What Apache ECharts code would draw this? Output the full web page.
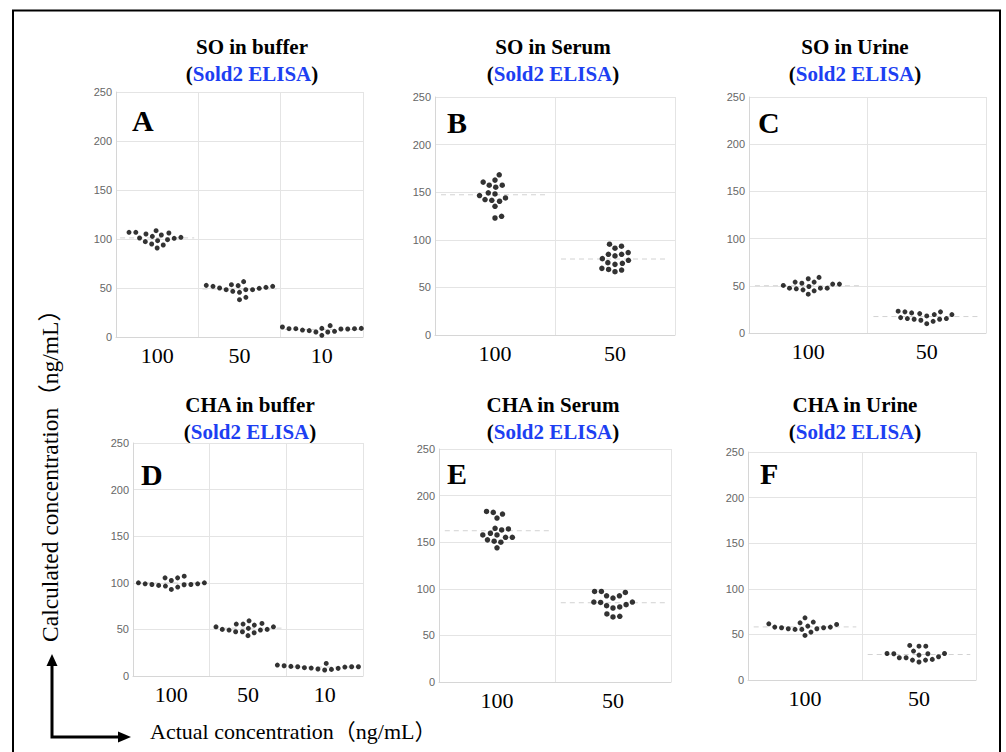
<!DOCTYPE html>
<html>
<head>
<meta charset="utf-8">
<script src="https://cdn.jsdelivr.net/npm/echarts@6/dist/echarts.min.js"></script>
<style>
  html, body { margin: 0; padding: 0; background: #fff; }
  #main { width: 1006px; height: 752px; }
</style>
</head>
<body>
<div id="main"></div>
<script>
// actual concentration (ng/mL) categories
var catsBuffer = ['100', '50', '10'];
var catsMatrix = ['100', '50'];

// calculated concentration (ng/mL)
// A: SO in buffer
var soBuf100 = [106.8, 106.1, 104.1, 101.0, 97.3, 100.7, 93.9, 108.5, 99.3, 90.8, 98.3, 94.9, 101.7, 102.7, 105.1, 106.8];
var soBuf50  = [53.4, 52.7, 51.7, 50.0, 46.6, 48.3, 40.5, 56.5, 48.3, 38.1, 48.3, 45.6, 49.7, 50.7, 51.7, 52.4];
var soBuf10  = [8.8, 8.5, 8.2, 7.1, 6.5, 10.9, 5.1, 8.5, 1.7, 10.2, 5.1, 11.6, 5.8, 8.2, 8.5, 8.8];
// B: SO in serum
var soSer100 = [168.3, 162.7, 160.6, 157.4, 155.3, 157.4, 149.3, 148.2, 146.5, 144.0, 140.5, 142.3, 141.5, 135.2, 124.7, 122.9];
var soSer50  = [91.2, 93.3, 95.4, 84.8, 84.8, 86.6, 83.1, 80.2, 76.0, 75.3, 78.5, 74.2, 70.0, 68.2, 66.5, 68.9];
// C: SO in urine
var soUri100 = [49.3, 57.5, 47.5, 53.9, 46.8, 51.8, 44.7, 51.8, 41.1, 52.8, 45.7, 53.9, 47.5, 58.9, 47.5, 50.4];
var soUri50  = [19.5, 16.3, 15.3, 22.4, 13.5, 21.3, 12.4, 20.6, 9.9, 22.4, 14.6, 23.1, 14.6, 15.3, 18.1, 19.5];
// D: CHA in buffer
var chaBuf100 = [100.0, 98.9, 98.2, 105.3, 96.5, 102.5, 95.4, 102.5, 92.9, 105.3, 97.2, 107.1, 97.9, 98.2, 98.9, 100.0];
var chaBuf50  = [50.0, 56.4, 49.3, 55.7, 47.5, 52.8, 46.4, 51.1, 43.3, 52.8, 47.5, 54.6, 49.3, 55.7, 50.0, 59.2];
var chaBuf10  = [10.3, 9.9, 9.6, 8.9, 8.5, 11.7, 7.1, 11.0, 6.4, 11.7, 7.5, 13.5, 8.2, 9.9, 9.9, 10.3];
// E: CHA in serum
var chaSer100 = [182.0, 175.9, 180.2, 183.0, 164.9, 163.1, 164.2, 159.6, 157.8, 155.3, 150.0, 152.5, 155.3, 151.1, 157.8, 144.0];
var chaSer50  = [96.1, 97.2, 97.2, 92.5, 92.5, 90.1, 85.8, 83.0, 79.4, 80.5, 81.9, 85.4, 85.8, 70.5, 69.8, 73.0];
// F: CHA in urine
var chaUri100 = [58.0, 57.3, 56.2, 58.0, 63.5, 61.6, 52.5, 59.1, 68.2, 48.9, 60.9, 55.5, 62.7, 55.5, 56.2, 57.3];
var chaUri50  = [28.8, 27.3, 24.4, 37.1, 22.6, 31.7, 21.8, 29.1, 19.7, 29.1, 21.8, 37.1, 24.4, 37.9, 25.5, 28.8];

var yTicks = [0, 50, 100, 150, 200, 250];

var SERIF = '"Liberation Serif", "Times New Roman", "Noto Sans CJK JP", serif';

var panels = [
  { letter: 'A', title: 'SO in buffer',  cats: catsBuffer, groups: [soBuf100, soBuf50, soBuf10],   grid: { left: 116, top: 92,  width: 247, height: 245 }, tx: 252, ty: 47,  mark: [132, 120], dot: 5 },
  { letter: 'B', title: 'SO in Serum',   cats: catsMatrix, groups: [soSer100, soSer50],            grid: { left: 435, top: 97,  width: 240, height: 238 }, tx: 553, ty: 47,  mark: [447, 122], dot: 5.5 },
  { letter: 'C', title: 'SO in Urine',   cats: catsMatrix, groups: [soUri100, soUri50],            grid: { left: 749, top: 97,  width: 237, height: 236 }, tx: 855, ty: 47,  mark: [758, 122], dot: 5 },
  { letter: 'D', title: 'CHA in buffer', cats: catsBuffer, groups: [chaBuf100, chaBuf50, chaBuf10], grid: { left: 133, top: 443, width: 230, height: 233 }, tx: 250, ty: 405, mark: [141, 474], dot: 5 },
  { letter: 'E', title: 'CHA in Serum',  cats: catsMatrix, groups: [chaSer100, chaSer50],          grid: { left: 439, top: 449, width: 232, height: 233 }, tx: 553, ty: 405, mark: [447, 473], dot: 5.5 },
  { letter: 'F', title: 'CHA in Urine',  cats: catsMatrix, groups: [chaUri100, chaUri50],          grid: { left: 748, top: 452, width: 228, height: 228 }, tx: 855, ty: 405, mark: [760, 473], dot: 5 }
];

// beeswarm ("swarm" method): place points in ascending order as close to the centre as possible
function swarm(vals, ky, d) {
  var pts = vals.map(function (v) { return { v: v, y: v * ky, x: 0 }; })
    .sort(function (a, b) { return a.y - b.y; });
  var placed = [];
  pts.forEach(function (p) {
    var near = placed.filter(function (q) { return Math.abs(q.y - p.y) < d; });
    var cands = [0];
    near.forEach(function (q) {
      var dx = Math.sqrt(d * d - (q.y - p.y) * (q.y - p.y));
      cands.push(q.x + dx, q.x - dx);
    });
    cands.sort(function (a, b) { return Math.abs(a) - Math.abs(b); });
    for (var c = 0; c < cands.length; c++) {
      var ok = near.every(function (q) {
        return (q.x - cands[c]) * (q.x - cands[c]) + (q.y - p.y) * (q.y - p.y) >= d * d - 1e-6;
      });
      if (ok) { p.x = cands[c]; break; }
    }
    placed.push(p);
  });
  return pts;
}

var grids = [], xAxes = [], yAxes = [], series = [], graphics = [];
var gridColor = '#e4e4e4';

panels.forEach(function (p, k) {
  grids.push(p.grid);
  xAxes.push({
    gridIndex: k, type: 'category', data: p.cats, boundaryGap: true,
    axisLine: { onZero: false, lineStyle: { color: '#d6d6d6' } },
    axisTick: { show: false },
    splitLine: { show: false },
    axisLabel: { fontFamily: SERIF, fontSize: 22, color: '#000', margin: 7 }
  });
  // numeric twin axis: places the swarm points inside each band and draws the band dividers
  xAxes.push({
    gridIndex: k, type: 'value', min: -0.5, max: p.cats.length - 0.5, interval: 1,
    axisLine: { show: false, onZero: false }, axisLabel: { show: false }, axisTick: { show: false },
    splitLine: { show: true, lineStyle: { color: gridColor } }
  });
  yAxes.push({
    gridIndex: k, type: 'value', min: yTicks[0], max: yTicks[yTicks.length - 1], interval: yTicks[1] - yTicks[0],
    axisLine: { show: true, onZero: false, lineStyle: { color: '#d6d6d6' } },
    axisTick: { show: false },
    splitLine: { show: true, lineStyle: { color: gridColor } },
    axisLabel: { fontFamily: '"Liberation Sans", Arial, sans-serif', fontSize: 11, color: '#666', margin: 4 }
  });

  var ky = p.grid.height / (yTicks[yTicks.length - 1] - yTicks[0]);
  var kx = p.grid.width / p.cats.length;
  p.groups.forEach(function (vals, i) {
    var mean = vals.reduce(function (s, v) { return s + v; }, 0) / vals.length;
    series.push({
      type: 'line', xAxisIndex: 2 * k + 1, yAxisIndex: k, silent: true, z: 1,
      data: [[i - 0.45, mean], [i + 0.45, mean]], symbol: 'none',
      lineStyle: { color: '#d2d2d2', width: 1, type: [5, 4] }
    });
    var sw = swarm(vals, ky, 6.8);
    series.push({
      type: 'scatter', xAxisIndex: 2 * k + 1, yAxisIndex: k, z: 3,
      data: sw.map(function (s) { return [i + s.x / kx, s.v]; }),
      symbol: 'circle', symbolSize: p.dot,
      itemStyle: { color: '#000' }
    });
  });

  graphics.push({
    type: 'text', x: p.tx, y: p.ty,
    style: { text: p.title, font: 'bold 21px ' + SERIF, fill: '#000', align: 'center', verticalAlign: 'middle' }
  });
  graphics.push({
    type: 'text', x: p.tx, y: p.ty + 27,
    style: {
      text: '{p|(}{b|Sold2 ELISA}{p|)}', align: 'center', verticalAlign: 'middle',
      rich: {
        p: { fontFamily: SERIF, fontWeight: 'bold', fontSize: 21, fill: '#000', color: '#000' },
        b: { fontFamily: SERIF, fontWeight: 'bold', fontSize: 21, fill: '#1d3ff2', color: '#1d3ff2' }
      }
    }
  });
  graphics.push({
    type: 'text', x: p.mark[0], y: p.mark[1],
    style: { text: p.letter, font: 'bold 30px ' + SERIF, fill: '#000', align: 'left', verticalAlign: 'middle' }
  });
});

// frame, axis arrows and shared axis titles
graphics.push(
  { type: 'rect', shape: { x: 13, y: 10.5, width: 987, height: 800 }, style: { fill: 'none', stroke: '#000', lineWidth: 2 } },
  { type: 'polyline', shape: { points: [[52, 660], [52, 737], [120, 737]] }, style: { stroke: '#000', lineWidth: 3, fill: 'none' } },
  { type: 'polygon', shape: { points: [[52, 654], [46.5, 666], [57.5, 666]] }, style: { fill: '#000' } },
  { type: 'polygon', shape: { points: [[131, 737], [118, 731.5], [118, 742.5]] }, style: { fill: '#000' } },
  {
    type: 'text', x: 150, y: 731,
    style: { text: 'Actual concentration（ng/mL）', font: '22px ' + SERIF, fill: '#000', align: 'left', verticalAlign: 'middle' }
  },
  {
    type: 'text', x: 50, y: 470, rotation: Math.PI / 2,
    style: { text: 'Calculated concentration（ng/mL）', font: '23.5px ' + SERIF, fill: '#000', align: 'center', verticalAlign: 'middle' }
  }
);

var chart = echarts.init(document.getElementById('main'), null, { renderer: 'svg' });
chart.setOption({
  animation: false,
  backgroundColor: '#fff',
  grid: grids,
  xAxis: xAxes,
  yAxis: yAxes,
  series: series,
  graphic: graphics
});
</script>
</body>
</html>
